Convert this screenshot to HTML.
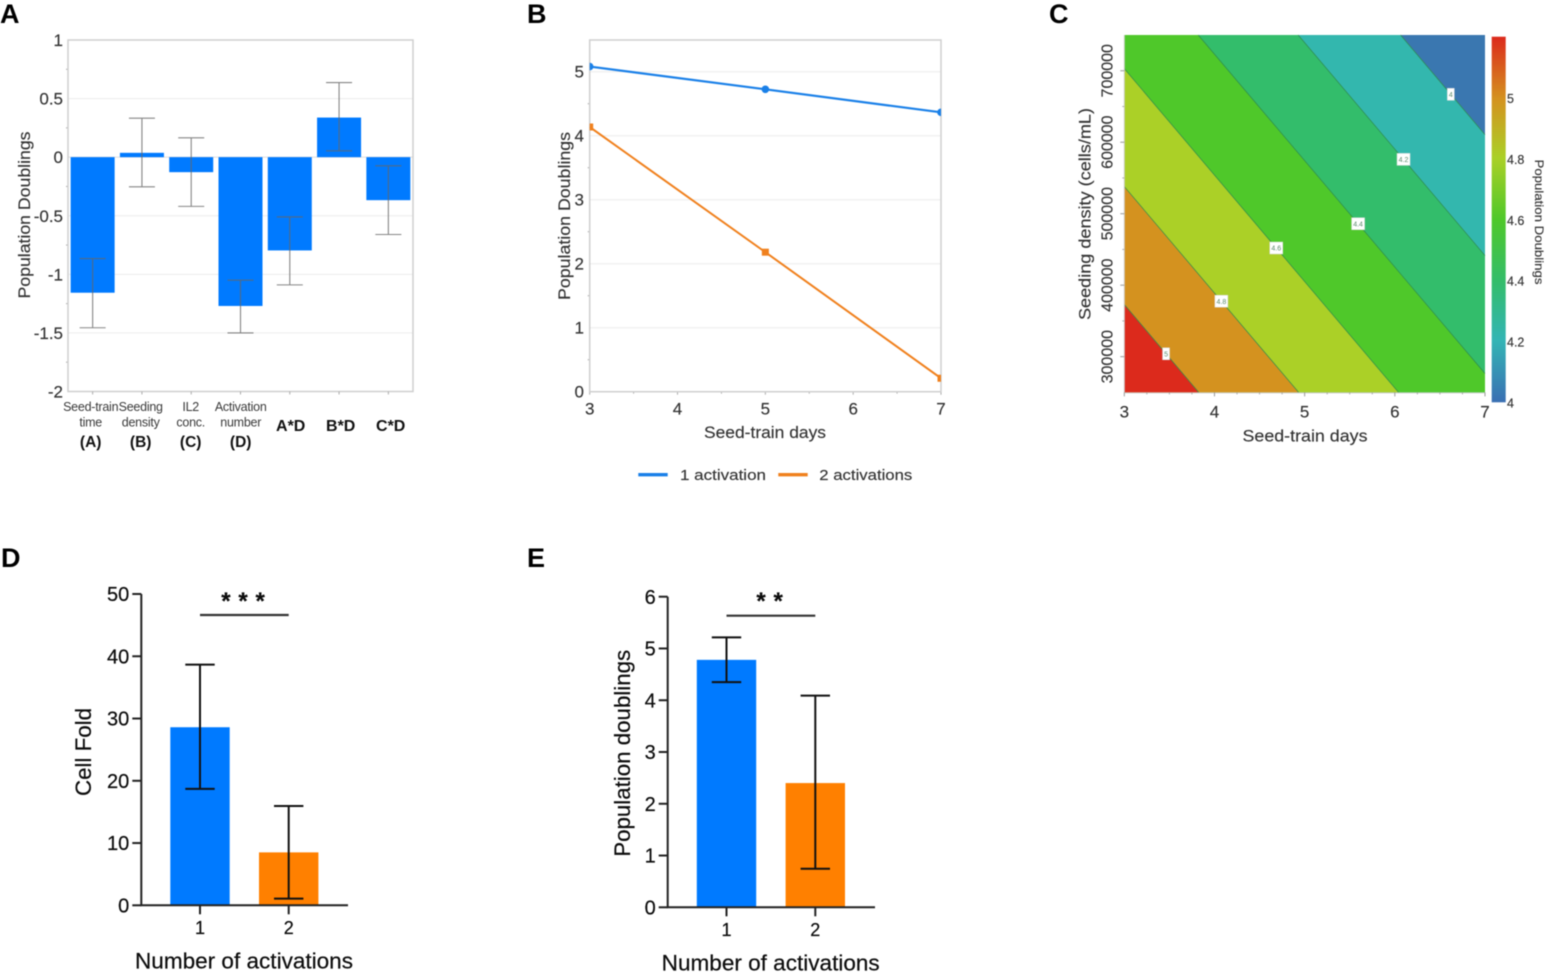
<!DOCTYPE html>
<html lang="en">
<head>
<meta charset="utf-8">
<title>Population doubling figure</title>
<style>
html,body{margin:0;padding:0;background:#fff;width:1552px;height:978px;overflow:hidden}
svg{display:block;filter:blur(0.5px)}
text{font-family:"Liberation Sans",sans-serif}
.letter{font-size:27px;font-weight:700;fill:#000}
.soft{fill:#333;stroke:#333;stroke-width:0.15px}
.dark{fill:#0c0c0c;stroke:#0c0c0c;stroke-width:0.2px}
</style>
</head>
<body>
<svg id="figure" xmlns="http://www.w3.org/2000/svg" width="1552" height="978" viewBox="0 0 1552 978">
  <defs>
    <clipPath id="clip-b"><rect x="589.7" y="40" width="351.3" height="351.7"/></clipPath>
    <linearGradient id="colorbar-gradient" x1="0" y1="1" x2="0" y2="0">
      <stop offset="0" stop-color="#3a6fb3"/>
      <stop offset="0.17" stop-color="#33b5b5"/>
      <stop offset="0.33" stop-color="#33bd6b"/>
      <stop offset="0.5" stop-color="#4fc82a"/>
      <stop offset="0.67" stop-color="#abd027"/>
      <stop offset="0.83" stop-color="#d4921f"/>
      <stop offset="1" stop-color="#dc2a1c"/>
    </linearGradient>
  </defs>

  <text class="letter" x="0" y="23">A</text>
  <text class="letter" x="527" y="23">B</text>
  <text class="letter" x="1049" y="23">C</text>
  <text class="letter" x="1" y="567">D</text>
  <text class="letter" x="527" y="567">E</text>

  <g id="panel-a">
    <text class="soft" transform="rotate(-90 30 215)" x="30" y="215" text-anchor="middle" font-size="17" textLength="167" lengthAdjust="spacingAndGlyphs">Population Doublings</text>
  </g>

  <g id="panel-b">
    <text class="soft" transform="rotate(-90 570 216)" x="570" y="216" text-anchor="middle" font-size="17" textLength="168" lengthAdjust="spacingAndGlyphs">Population Doublings</text>
    <text class="soft" x="765" y="438" text-anchor="middle" font-size="17" textLength="122" lengthAdjust="spacingAndGlyphs">Seed-train days</text>
    <line x1="638.3" y1="474.7" x2="667.7" y2="474.7" stroke="#1a80e8" stroke-width="3.4"/>
    <text class="soft" x="680" y="480" font-size="15" textLength="86" lengthAdjust="spacingAndGlyphs">1 activation</text>
    <line x1="778.3" y1="474.7" x2="807.7" y2="474.7" stroke="#f0811e" stroke-width="3.4"/>
    <text class="soft" x="819.3" y="480" font-size="15" textLength="93" lengthAdjust="spacingAndGlyphs">2 activations</text>
  </g>

  <g id="panel-c">
    <text class="soft" x="1305" y="441.7" text-anchor="middle" font-size="17" textLength="125" lengthAdjust="spacingAndGlyphs">Seed-train days</text>
    <text class="soft" transform="rotate(-90 1090.7 214)" x="1090.7" y="214" text-anchor="middle" font-size="17" textLength="212" lengthAdjust="spacingAndGlyphs">Seeding density (cells/mL)</text>
    <rect x="1491.7" y="36.7" width="14" height="365.6" fill="url(#colorbar-gradient)"/>
    <text class="soft" transform="rotate(90 1535 222)" x="1535" y="222" text-anchor="middle" font-size="12" textLength="125" lengthAdjust="spacingAndGlyphs">Population Doublings</text>
  </g>

  <g id="panel-d">
    <text class="dark" transform="rotate(-90 91 752)" x="91" y="752" text-anchor="middle" font-size="22" textLength="88" lengthAdjust="spacingAndGlyphs">Cell Fold</text>
    <text class="dark" x="244" y="968.5" text-anchor="middle" font-size="22" textLength="218" lengthAdjust="spacingAndGlyphs">Number of activations</text>
    <text class="dark" x="247" y="609" text-anchor="middle" font-size="24" font-weight="700" letter-spacing="7.8">***</text>
  </g>

  <g id="panel-e">
    <text class="dark" transform="rotate(-90 630 753.3)" x="630" y="753.3" text-anchor="middle" font-size="22" textLength="207" lengthAdjust="spacingAndGlyphs">Population doublings</text>
    <text class="dark" x="770.7" y="970.5" text-anchor="middle" font-size="22" textLength="218" lengthAdjust="spacingAndGlyphs">Number of activations</text>
    <text class="dark" x="773.5" y="609" text-anchor="middle" font-size="24" font-weight="700" letter-spacing="7.8">**</text>
  </g>
</svg>

<script>
// ---------- Panel A data ----------
const aLabelLines = [["Seed-train","time"],["Seeding","density"],["IL2","conc."],["Activation","number"],[],[],[]];
const aLabelBold = ["(A)","(B)","(C)","(D)","A*D","B*D","C*D"];
const aEffects = [-1.157,0.037,-0.128,-1.27,-0.796,0.338,-0.367];
const aErrorUpper = [-0.865,0.333,0.165,-1.05,-0.51,0.637,-0.074];
const aErrorLower = [-1.456,-0.253,-0.42,-1.5,-1.09,0.054,-0.66];
const aTicks = [1,0.5,0,-0.5,-1,-1.5,-2];
const aMinorTicks = [0.75,0.25,-0.25,-0.75,-1.25,-1.75];

// ---------- Panel B data ----------
const bDays = [3,5,7];
const bOneActivation = [5.08,4.725,4.365];
const bTwoActivations = [4.136,2.18,0.21];
const bYTicks = [0,1,2,3,4,5];
const bYMinorTicks = [0.5,1.5,2.5,3.5,4.5];
const bXTicks = [3,4,5,6,7];
const bXMinorTicks = [3.5,4.5,5.5,6.5];

// ---------- Panel C data ----------
const cSurfaceAtOrigin = 5.149;
const cSlopePerDay = -0.1805;
const cSlopePerCell = -0.000001212;
const cContourLevels = [3.99,4.195,4.395,4.6,4.8,5];
const cContourLabels = ["4","4.2","4.4","4.6","4.8","5"];
const cContourLabelDensity = [667000,576000,486000,452000,377600,304000];
const cBandColors = ["#3a77b0","#33b7ae","#33bd6b","#4fc82a","#abd027","#d4921f","#dc2a1c"];
const cXTicks = [3,4,5,6,7];
const cXMinorTicks = [3.25,3.5,3.75,4.25,4.5,4.75,5.25,5.5,5.75,6.25,6.5,6.75];
const cYTicks = [300000,400000,500000,600000,700000];
const cYMinorTicks = [350000,450000,550000,650000];
const cColorbarTicks = [4,4.2,4.4,4.6,4.8,5];

// ---------- Panel D data ----------
const dCategories = ["1","2"];
const dMeans = [28.6,8.5];
const dErrorUpper = [38.65,15.95];
const dErrorLower = [18.7,1.07];
const dTicks = [0,10,20,30,40,50];

// ---------- Panel E data ----------
const eCategories = ["1","2"];
const eMeans = [4.78,2.40];
const eErrorUpper = [5.215,4.09];
const eErrorLower = [4.35,0.745];
const eTicks = [0,1,2,3,4,5,6];

const SVG_NS = "http://www.w3.org/2000/svg";
function make(parent, tag, attrs, text) {
  const el = document.createElementNS(SVG_NS, tag);
  for (const k in attrs) el.setAttribute(k, attrs[k]);
  if (text !== undefined) el.textContent = text;
  parent.appendChild(el);
  return el;
}

// ---------- Panel A ----------
(function () {
  const g = document.getElementById("panel-a");
  const L = 68, R = 413, T = 40, B = 391.5;
  const y = v => T + (1 - v) * (B - T) / 3;
  const band = (R - L) / aEffects.length;
  const x = i => L + band * (i + 0.5);
  const labelX = i => 90.7 + 50 * i;

  aTicks.forEach(t => {
    if (t !== 1 && t !== -2) {
      const grid = make(g, "line", {x1: L, x2: R, y1: y(t), y2: y(t), stroke: t === 0 ? "#dcdcdc" : "#ececec", "stroke-width": 1});
      
      
    }
    const label = make(g, "text", {x: 63, y: y(t) + 6, "text-anchor": "end", "font-size": 17, class: "soft"}, String(t));
    
    
  });
  aMinorTicks.forEach(t => {
    const tick = make(g, "line", {x1: L - 2, x2: L, y1: y(t), y2: y(t), stroke: "#aaa", "stroke-width": 1});
    
    
  });

  const frame = make(g, "rect", {x: L, y: T, width: R - L, height: B - T, fill: "none", stroke: "#cfcfcf", "stroke-width": 1.5});
  
  

  aEffects.forEach((v, i) => {
    const bar = make(g, "rect", {x: x(i) - 22, y: Math.min(y(v), y(0)), width: 44, height: Math.abs(y(v) - y(0)), fill: "#007aff"});
    
    
  });

  aEffects.forEach((v, i) => {
    const stem = make(g, "path", {
      d: "M" + (x(i) - 13) + " " + y(aErrorUpper[i]) + "H" + (x(i) + 13) +
         "M" + x(i) + " " + y(aErrorUpper[i]) + "V" + y(aErrorLower[i]) +
         "M" + (x(i) - 13) + " " + y(aErrorLower[i]) + "H" + (x(i) + 13),
      fill: "none", stroke: "#666", "stroke-opacity": 0.8, "stroke-width": 1.1
    });
    
    

    const tick = make(g, "line", {x1: x(i), x2: x(i), y1: B, y2: B + 3, stroke: "#aaa", "stroke-width": 1});
    
    

    aLabelLines[i].forEach((line, n) => {
      const lab = make(g, "text", {x: labelX(i), y: 411 + n * 15.5, "text-anchor": "middle", "font-size": 12.5, fill: "#3a3a3a", "letter-spacing": -0.25}, line);
      
      
    });
    const isGroupLabel = aLabelLines[i].length > 0;
    const bold = make(g, "text", {x: labelX(i), y: isGroupLabel ? 447 : 431, "text-anchor": "middle", "font-size": isGroupLabel ? 15.5 : 16, "font-weight": 700, fill: "#111"}, aLabelBold[i]);
    
    
  });
})();

// ---------- Panel B ----------
(function () {
  const g = document.getElementById("panel-b");
  const L = 589.7, R = 941, T = 40, B = 391.7;
  const x = d => L + (d - 3) * (R - L) / 4;
  const y = v => B - v * 64;

  bYTicks.forEach(t => {
    if (t !== 0) {
      const grid = make(g, "line", {x1: L, x2: R, y1: y(t), y2: y(t), stroke: "#ececec", "stroke-width": 1});
      
      
    }
    const label = make(g, "text", {x: 584, y: y(t) + 6, "text-anchor": "end", "font-size": 17, class: "soft"}, String(t));
    
    
  });
  bYMinorTicks.forEach(t => {
    const tick = make(g, "line", {x1: L - 2, x2: L, y1: y(t), y2: y(t), stroke: "#aaa", "stroke-width": 1});
    
    
  });
  bXTicks.forEach(t => {
    const label = make(g, "text", {x: x(t), y: 414.3, "text-anchor": "middle", "font-size": 17, class: "soft"}, String(t));
    
    
    const tick = make(g, "line", {x1: x(t), x2: x(t), y1: B, y2: B + 3, stroke: "#aaa", "stroke-width": 1});
    
    
  });
  bXMinorTicks.forEach(t => {
    const tick = make(g, "line", {x1: x(t), x2: x(t), y1: B, y2: B + 2, stroke: "#aaa", "stroke-width": 1});
    
    
  });

  const frame = make(g, "rect", {x: L, y: T, width: R - L, height: B - T, fill: "none", stroke: "#cfcfcf", "stroke-width": 1.5});
  
  

  const plot = make(g, "g", {"clip-path": "url(#clip-b)"});
  
  

  const lineOne = make(plot, "polyline", {points: bDays.map((d, i) => x(d) + "," + y(bOneActivation[i])).join(" "), fill: "none", stroke: "#1a80e8", "stroke-width": 2.2});
  
  

  const lineTwo = make(plot, "polyline", {points: bDays.map((d, i) => x(d) + "," + y(bTwoActivations[i])).join(" "), fill: "none", stroke: "#f0811e", "stroke-width": 2});
  
  

  bDays.forEach((d, i) => {
    const dot = make(plot, "circle", {cx: x(d), cy: y(bOneActivation[i]), r: 3.8, fill: "#1a80e8"});
    
    

    const square = make(plot, "rect", {x: x(d) - 3.5, y: y(bTwoActivations[i]) - 3.5, width: 7, height: 7, fill: "#f0811e"});
    
    
  });
})();

// ---------- Panel C ----------
(function () {
  const g = document.getElementById("panel-c");
  const L = 1124.3, R = 1485, T = 35, B = 392.4;
  const Dmin = 250000, Dmax = 750000;
  const x = d => L + (d - 3) * (R - L) / 4;
  const y = v => B - (v - Dmin) * (B - T) / (Dmax - Dmin);
  const surface = (d, v) => cSurfaceAtOrigin + cSlopePerDay * (d - 3) + cSlopePerCell * (v - Dmin);
  const corners = [[3, Dmin], [7, Dmin], [7, Dmax], [3, Dmax]];

  function aboveLevel(level) {
    const out = [];
    corners.forEach((p, i) => {
      const q = corners[(i + 1) % 4];
      const zp = surface(p[0], p[1]) - level, zq = surface(q[0], q[1]) - level;
      if (zp >= 0) out.push(p);
      if (zp * zq < 0) {
        const t = zp / (zp - zq);
        out.push([p[0] + t * (q[0] - p[0]), p[1] + t * (q[1] - p[1])]);
      }
    });
    return out;
  }
  const toPoints = poly => poly.map(p => x(p[0]) + "," + y(p[1])).join(" ");

  const base = make(g, "polygon", {points: toPoints(corners), fill: cBandColors[0]});
  
  

  cContourLevels.forEach((level, i) => {
    const band = make(g, "polygon", {points: toPoints(aboveLevel(level)), fill: cBandColors[i + 1]});
    
    
  });

  cContourLevels.forEach(level => {
    const poly = aboveLevel(level);
    const onLine = poly.filter(p => Math.abs(surface(p[0], p[1]) - level) < 1e-9);
    if (onLine.length === 2) {
      const line = make(g, "line", {x1: x(onLine[0][0]), y1: y(onLine[0][1]), x2: x(onLine[1][0]), y2: y(onLine[1][1]), stroke: "#2f8a4e", "stroke-width": 0.7});
      
      
    }
  });

  cContourLevels.forEach((level, i) => {
    const density = cContourLabelDensity[i];
    const day = 3 + (level - cSurfaceAtOrigin - cSlopePerCell * (density - Dmin)) / cSlopePerDay;
    const w = cContourLabels[i].length > 1 ? 13 : 7;
    const box = make(g, "rect", {x: x(day) - w / 2, y: y(density) - 6, width: w, height: 12, fill: "#fff", stroke: "#d8d8d8", "stroke-width": 0.5});
    
    
    const text = make(g, "text", {x: x(day), y: y(density) + 2.6, "text-anchor": "middle", "font-size": 7, fill: "#5a8a6a"}, cContourLabels[i]);
    
    
  });

  const xAxis = make(g, "line", {x1: L, x2: R, y1: B + 0.5, y2: B + 0.5, stroke: "#cfcfcf", "stroke-width": 1});
  
  
  const yAxis = make(g, "line", {x1: L, x2: L, y1: T, y2: B, stroke: "#cfcfcf", "stroke-width": 1});
  
  

  cXTicks.forEach(t => {
    const tick = make(g, "line", {x1: x(t), x2: x(t), y1: B, y2: B + 4, stroke: "#999", "stroke-width": 1});
    
    
    const label = make(g, "text", {x: x(t), y: 417.3, "text-anchor": "middle", "font-size": 17, class: "soft"}, String(t));
    
    
  });
  cXMinorTicks.forEach(t => {
    const tick = make(g, "line", {x1: x(t), x2: x(t), y1: B, y2: B + 2, stroke: "#aaa", "stroke-width": 1});
    
    
  });
  cYTicks.forEach(t => {
    const tick = make(g, "line", {x1: L - 4, x2: L, y1: y(t), y2: y(t), stroke: "#999", "stroke-width": 1});
    
    
    const label = make(g, "text", {x: 1112.7, y: y(t), transform: "rotate(-90 1112.7 " + y(t) + ")", "text-anchor": "middle", "font-size": 16, class: "soft"}, String(t));
    
    
  });
  cYMinorTicks.forEach(t => {
    const tick = make(g, "line", {x1: L - 2, x2: L, y1: y(t), y2: y(t), stroke: "#aaa", "stroke-width": 1});
    
    
  });
  cColorbarTicks.forEach(t => {
    const yBar = 403 - (t - 4) * 304.5;
    const label = make(g, "text", {x: 1507, y: yBar + 4.5, "font-size": 12.5, class: "soft"}, String(t));
    
    
  });
})();

// ---------- Panels D and E ----------
function drawBars(g, prefix, categories, means, upper, lower, ticks, top, frame) {
  const y = v => frame.y0 - v * (frame.y0 - frame.yTop) / top;
  const colors = ["#007aff", "#ff8000"];

  means.forEach((v, i) => {
    const bar = make(g, "rect", {x: frame.centers[i] - 29.7, y: y(v), width: 59.4, height: frame.y0 - y(v), fill: colors[i]});
    
    
  });

  const axes = make(g, "path", {d: "M" + frame.x0 + " " + frame.yTop + "V" + frame.y0 + "H" + frame.xEnd, fill: "none", stroke: "#222", "stroke-width": 2});
  
  

  ticks.forEach(t => {
    const tick = make(g, "line", {x1: frame.x0 - 9, x2: frame.x0, y1: y(t), y2: y(t), stroke: "#222", "stroke-width": 2});
    
    
    const label = make(g, "text", {x: frame.x0 - 12, y: y(t) + 7.2, "text-anchor": "end", "font-size": 20, class: "dark"}, String(t));
    
    
  });

  categories.forEach((c, i) => {
    const cx = frame.centers[i];
    const whisker = make(g, "path", {
      d: "M" + (cx - 14.7) + " " + y(upper[i]) + "H" + (cx + 14.7) +
         "M" + cx + " " + y(upper[i]) + "V" + y(lower[i]) +
         "M" + (cx - 14.7) + " " + y(lower[i]) + "H" + (cx + 14.7),
      fill: "none", stroke: "#111", "stroke-width": 2
    });
    
    

    const tick = make(g, "line", {x1: cx, x2: cx, y1: frame.y0, y2: frame.y0 + 9, stroke: "#222", "stroke-width": 2});
    
    

    const label = make(g, "text", {x: cx, y: frame.y0 + 28.7, "text-anchor": "middle", "font-size": 18, class: "dark"}, c);
    
    
  });

  const sig = make(g, "line", {x1: frame.centers[0], x2: frame.centers[1], y1: frame.sigY, y2: frame.sigY, stroke: "#333", "stroke-width": 2.2});
  
  
}

drawBars(document.getElementById("panel-d"), "d", dCategories, dMeans, dErrorUpper, dErrorLower, dTicks, 50,
  {x0: 141.3, xEnd: 348, y0: 905.3, yTop: 594, centers: [200, 288.7], sigY: 615});
drawBars(document.getElementById("panel-e"), "e", eCategories, eMeans, eErrorUpper, eErrorLower, eTicks, 6,
  {x0: 667.7, xEnd: 875, y0: 907.3, yTop: 596.7, centers: [726.5, 815.3], sigY: 615.7});
</script>
</body>
</html>
